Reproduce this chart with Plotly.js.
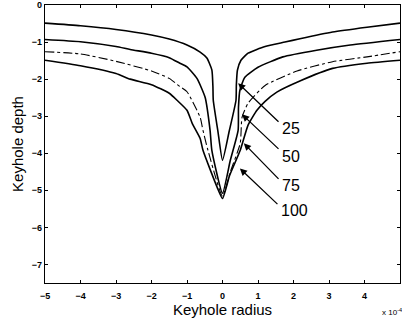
<!DOCTYPE html>
<html>
<head>
<meta charset="utf-8">
<script src="https://cdn.plot.ly/plotly-3.0.1.min.js"></script>
<style>html,body{margin:0;padding:0;background:#fff;}#chart{width:402px;height:322px;}</style>
</head>
<body>
<div id="chart"></div>
<script>
// Keyhole radius (x 10^-4) and keyhole depth for four cases
const labels = ['25', '50', '75', '100'];

const x25 = [-5, -4, -3, -2, -1.5, -1, -0.63, -0.44, -0.3, -0.27, -0.26, -0.13, 0, 0.19, 0.38, 0.39, 0.42, 0.52, 0.72, 1.2, 1.76, 2.18, 3.1, 4.07, 5];
const y25 = [-0.49, -0.56, -0.66, -0.81, -0.92, -1.08, -1.27, -1.43, -1.75, -2.2, -2.57, -3.4, -4.19, -3.4, -2.57, -2.16, -1.76, -1.49, -1.3, -1.12, -1.0, -0.91, -0.73, -0.6, -0.49];

const x50 = [-5, -4, -3, -2.6, -2, -1.5, -1.2, -1, -0.72, -0.49, -0.35, -0.3, 0, 0.22, 0.44, 0.45, 0.49, 0.63, 1.0, 1.7, 2.65, 3.6, 5];
const y50 = [-0.93, -0.99, -1.12, -1.2, -1.3, -1.42, -1.57, -1.67, -1.98, -2.49, -3.38, -3.92, -5.08, -4.19, -3.38, -2.76, -2.3, -1.95, -1.68, -1.4, -1.22, -1.08, -0.93];

const x75 = [-5, -4, -3, -2, -1.5, -1.2, -1, -0.63, -0.55, -0.41, 0, 0.22, 0.5, 0.55, 0.72, 1.2, 2.1, 3.1, 4.07, 5];
const y75 = [-1.26, -1.32, -1.52, -1.78, -1.98, -2.2, -2.34, -3.03, -3.38, -3.92, -5.16, -4.5, -3.73, -3.03, -2.65, -2.17, -1.78, -1.53, -1.4, -1.26];

const x100 = [-5, -4, -3, -2.6, -2, -1.5, -1.28, -1, -0.85, -0.63, -0.55, -0.15, 0, 0.2, 0.5, 0.72, 0.97, 1.2, 1.53, 2.18, 3.1, 4.07, 5];
const y100 = [-1.49, -1.64, -1.85, -2.0, -2.15, -2.38, -2.57, -2.84, -3.2, -3.6, -3.92, -4.92, -5.22, -4.6, -3.92, -3.24, -2.84, -2.6, -2.35, -2.05, -1.71, -1.57, -1.49];

// arrow tips (on curves) and tails (near labels), data units
const tipX = [0.44, 0.55, 0.6, 0.49];
const tipY = [-2.11, -2.95, -3.73, -4.41];
const tailX = [1.62, 1.62, 1.62, 1.59];
const tailY = [-3.19, -3.92, -4.73, -5.41];
const labelX = [1.93, 1.93, 1.93, 2.04];
const labelY = [-3.32, -4.08, -4.86, -5.54];

const lineSolid = {color: '#000', width: 1.6, shape: 'spline', smoothing: 0.5};
const traces = [
  {x: x25, y: y25, mode: 'lines', line: lineSolid, name: labels[0]},
  {x: x50, y: y50, mode: 'lines', line: lineSolid, name: labels[1]},
  {x: x75, y: y75, mode: 'lines', line: {color: '#000', width: 1.1, dash: 'dashdot', shape: 'spline', smoothing: 0.5}, name: labels[2]},
  {x: x100, y: y100, mode: 'lines', line: lineSolid, name: labels[3]}
];

const annotations = [];
for (let i = 0; i < labels.length; i++) {
  annotations.push({
    x: tipX[i], y: tipY[i], xref: 'x', yref: 'y',
    ax: tailX[i], ay: tailY[i], axref: 'x', ayref: 'y',
    text: '', showarrow: true, arrowhead: 2, arrowsize: 1.1, arrowwidth: 1.3, arrowcolor: '#000'
  });
  annotations.push({
    x: labelX[i], y: labelY[i], xref: 'x', yref: 'y', showarrow: false,
    text: labels[i], font: {family: 'Arial, Liberation Sans, sans-serif', size: 16, color: '#000'},
    xanchor: 'center', yanchor: 'middle'
  });
}
annotations.push({
  xref: 'paper', yref: 'paper', x: 1, y: 0, xanchor: 'right', yanchor: 'top',
  xshift: 4, yshift: -22, showarrow: false,
  text: 'x 10<sup>-4</sup>', font: {family: 'Arial, Liberation Sans, sans-serif', size: 8, color: '#000'}
});

const axisCommon = {
  showline: true, linecolor: '#000', linewidth: 1.2, mirror: 'allticks',
  ticks: 'inside', ticklen: 3, tickcolor: '#000', tickwidth: 1,
  showgrid: false, zeroline: false,
  tickfont: {family: 'Arial, Liberation Sans, sans-serif', size: 9, color: '#000', weight: 'bold'}
};

const layout = {
  width: 402, height: 322,
  margin: {l: 45, r: 2, t: 5, b: 39},
  paper_bgcolor: '#fff', plot_bgcolor: '#fff',
  showlegend: false,
  xaxis: Object.assign({}, axisCommon, {
    range: [-5, 5], dtick: 1, tick0: 0, ticklabelstandoff: 4,
    title: {text: 'Keyhole radius', font: {family: 'Arial, Liberation Sans, sans-serif', size: 15, color: '#000'}, standoff: 4}
  }),
  yaxis: Object.assign({}, axisCommon, {
    range: [-7.5, 0], dtick: 1, tick0: 0,
    title: {text: 'Keyhole depth', font: {family: 'Arial, Liberation Sans, sans-serif', size: 15, color: '#000'}, standoff: 4}
  }),
  annotations: annotations
};

Plotly.newPlot('chart', traces, layout, {staticPlot: true, displayModeBar: false});
</script>
</body>
</html>
